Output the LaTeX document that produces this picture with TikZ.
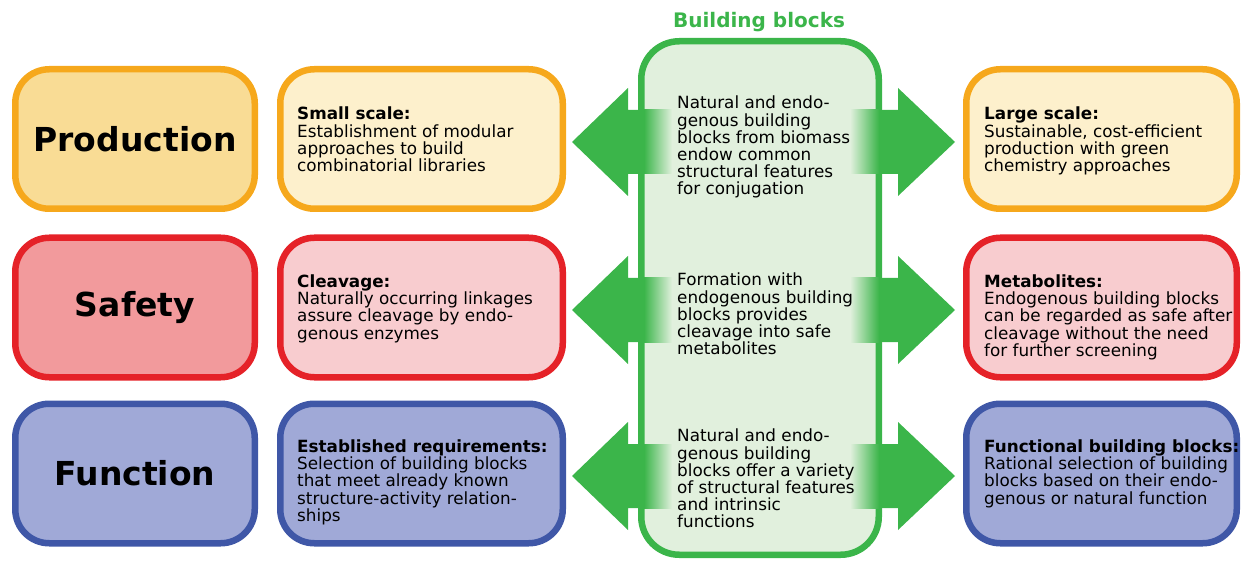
\documentclass[tikz,border=0pt]{standalone}
\usepackage{fontspec}
\setmainfont{DejaVu Sans}
\usetikzlibrary{positioning}

% row colours
\definecolor{prodline}{HTML}{F6A81C}
\definecolor{prodfill}{HTML}{F9DC95}
\definecolor{prodlight}{HTML}{FDF0CC}
\definecolor{safeline}{HTML}{E52228}
\definecolor{safefill}{HTML}{F29A9C}
\definecolor{safelight}{HTML}{F8CCCF}
\definecolor{funcline}{HTML}{3F57A7}
\definecolor{funcfill}{HTML}{A0A9D7}
\definecolor{bbline}{HTML}{3BB54A}
\definecolor{bbfill}{HTML}{E1F0DD}

\begin{document}
\begin{tikzpicture}[x=1pt,y=-1pt]

    \tikzset{
      panel/.style={
        draw,
        line width=6.5pt,
        rounded corners=34pt,
        minimum height=139.5pt,
        inner sep=0pt,
      },
      catbox/.style={panel, minimum width=239.5pt,
        font=\fontsize{33}{38}\selectfont\bfseries},
      leftbox/.style={panel, minimum width=282.5pt},
      rightbox/.style={panel, minimum width=270.5pt},
      note/.style={anchor=north west, align=left, inner sep=0pt,
        font=\fontsize{16.8}{17.2}\selectfont},
    }
    \useasboundingbox (0,0) rectangle (1242,561);

    % building blocks column
    \node[draw=bbline, fill=bbfill, line width=6.5pt, rounded corners=38pt,
      minimum width=237.5pt, minimum height=513.5pt] (hub) at (760,298) {};
    \node[text=bbline, font=\fontsize{20}{24}\selectfont\bfseries] (hubtitle) at (759,22) {Building blocks};

    % categories
    \node[catbox, draw=prodline, fill=prodfill] (prod) at (135,139) {Production};
    \node[catbox, draw=safeline, fill=safefill] (safe) at (135,307.5) {Safety};
    \node[catbox, draw=funcline, fill=funcfill] (func) at (135,473.5) {Function};

    \node[leftbox, draw=prodline, fill=prodlight] (small) at (421.5,139) {};
    \node[leftbox, draw=safeline, fill=safelight] (cleave) at (421.5,307.5) {};
    \node[leftbox, draw=funcline, fill=funcfill] (estab) at (421.5,473.5) {};

    \node[rightbox, draw=prodline, fill=prodlight] (large) at (1101.5,139) {};
    \node[rightbox, draw=safeline, fill=safelight] (metab) at (1101.5,307.5) {};
    \node[rightbox, draw=funcline, fill=funcfill] (funcbb) at (1101.5,473.5) {};

    % fat arrows out of the hub, shafts fading into it
    \fill[bbline] (645,110)--(628,110)--(628,88)--(572,142)--(628,196)--(628,174)--(645,174)--cycle;
    \shade[left color=bbline, right color=bbfill] (644,110) rectangle (672,174);
    \fill[bbline] (878,110)--(898,110)--(898,88)--(955,142)--(898,196)--(898,174)--(878,174)--cycle;
    \shade[left color=bbfill, right color=bbline] (850,110) rectangle (879,174);

    \fill[bbline] (645,278)--(628,278)--(628,256)--(572,310)--(628,364)--(628,342)--(645,342)--cycle;
    \shade[left color=bbline, right color=bbfill] (644,278) rectangle (672,342);
    \fill[bbline] (878,278)--(898,278)--(898,256)--(955,310)--(898,364)--(898,342)--(878,342)--cycle;
    \shade[left color=bbfill, right color=bbline] (850,278) rectangle (879,342);

    \fill[bbline] (645,444)--(628,444)--(628,422)--(572,476)--(628,530)--(628,508)--(645,508)--cycle;
    \shade[left color=bbline, right color=bbfill] (644,444) rectangle (672,508);
    \fill[bbline] (878,444)--(898,444)--(898,422)--(955,476)--(898,530)--(898,508)--(878,508)--cycle;
    \shade[left color=bbfill, right color=bbline] (850,444) rectangle (879,508);

    % texts
    \node[note] (smalltxt) at ([xshift=20pt,yshift=-41pt]small.north west)
      {\textbf{Small scale:}\\Establishment of modular\\approaches to build\\combinatorial libraries};
    \node[note] (cleavetxt) at ([xshift=20pt,yshift=-40pt]cleave.north west)
      {\textbf{Cleavage:}\\Naturally occurring linkages\\assure cleavage by endo-\\genous enzymes};
    \node[note] (estabtxt) at ([xshift=20pt,yshift=-39pt]estab.north west)
      {\textbf{Established requirements:}\\Selection of building blocks\\that meet already known\\structure-activity relation-\\ships};

    \node[note] (largetxt) at ([xshift=21pt,yshift=-41pt]large.north west)
      {\textbf{Large scale:}\\Sustainable, cost-efficient\\production with green\\chemistry approaches};
    \node[note] (metabtxt) at ([xshift=21pt,yshift=-40pt]metab.north west)
      {\textbf{Metabolites:}\\Endogenous building blocks\\can be regarded as safe after\\cleavage without the need\\for further screening};
    \node[note] (funcbbtxt) at ([xshift=21pt,yshift=-39pt]funcbb.north west)
      {\textbf{Functional building blocks:}\\Rational selection of building\\blocks based on their endo-\\genous or natural function};

    \node[note] (hubtxt1) at (677,96)
      {Natural and endo-\\genous building\\blocks from biomass\\endow common\\structural features\\for conjugation};
    \node[note] (hubtxt2) at (677,273)
      {Formation with\\endogenous building\\blocks provides\\cleavage into safe\\metabolites};
    \node[note] (hubtxt3) at (677,429)
      {Natural and endo-\\genous building\\blocks offer a variety\\of structural features\\and intrinsic\\functions};

\end{tikzpicture}
\end{document}
